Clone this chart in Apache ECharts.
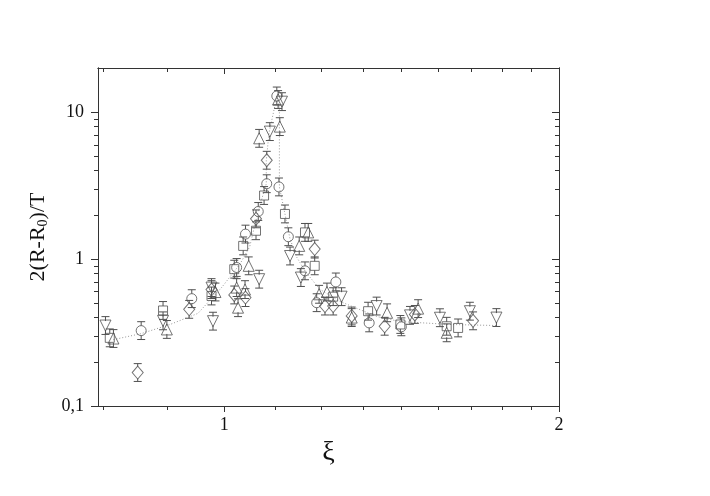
<!DOCTYPE html>
<html>
<head>
<meta charset="utf-8">
<script src="https://cdn.jsdelivr.net/npm/echarts@6.0.0/dist/echarts.min.js"></script>
<style>
  html, body { margin: 0; padding: 0; background: #fff; }
  #main { width: 710px; height: 496px; }
</style>
</head>
<body>
<div id="main"></div>
<script>
// tick values / labels
var xMajorTicks = [1, 2];
var xMinorTicks = [0.778, 0.889, 1.111, 1.222, 1.333, 1.444, 1.556, 1.667, 1.778, 1.889];
var yMajorTicks = [0.1, 1, 10];
var yTickText = ['0,1', '1', '10'];
var yMinorTicks = [0.2, 0.3, 0.4, 0.5, 0.6, 0.7, 0.8, 0.9, 2, 3, 4, 5, 6, 7, 8, 9];

// squares
var sqX = [0.789, 0.881, 0.974, 1.021, 1.040, 1.068, 1.086, 1.134, 1.182, 1.206, 1.253, 1.347, 1.440, 1.585, 1.623];
var sqY = [0.291, 0.447, 0.561, 0.854, 1.23, 1.56, 2.71, 2.03, 1.52, 0.90, 0.555, 0.442, 0.359, 0.349, 0.340];
// circles
var ciX = [0.842, 0.935, 1.026, 1.045, 1.073, 1.092, 1.120, 1.115, 1.142, 1.182, 1.211, 1.260, 1.350, 1.443];
var ciY = [0.326, 0.538, 0.877, 1.48, 2.11, 3.26, 3.10, 12.9, 1.42, 0.832, 0.505, 0.699, 0.368, 0.346];
// triangles up
var tuX = [0.795, 0.888, 0.982, 1.026, 1.029, 1.044, 1.052, 1.075, 1.118, 1.122, 1.168, 1.190, 1.217, 1.237, 1.302, 1.401, 1.494, 1.585];
var tuY = [0.288, 0.332, 0.597, 0.64, 0.467, 0.62, 0.90, 6.64, 12.2, 7.98, 1.23, 1.52, 0.576, 0.597, 0.40, 0.431, 0.46, 0.315];
// triangles down
var tdX = [0.782, 0.881, 0.974, 0.977, 1.075, 1.099, 1.127, 1.146, 1.172, 1.275, 1.371, 1.469, 1.563, 1.663, 1.757];
var tdY = [0.353, 0.38, 0.64, 0.378, 0.73, 7.38, 11.8, 1.05, 0.749, 0.555, 0.479, 0.414, 0.399, 0.442, 0.40];
// diamonds
var diX = [0.836, 0.930, 0.974, 1.021, 1.045, 1.068, 1.092, 1.206, 1.232, 1.253, 1.302, 1.394, 1.484, 1.674];
var diY = [0.169, 0.455, 0.62, 0.57, 0.547, 1.88, 4.71, 1.17, 0.479, 0.479, 0.41, 0.349, 0.42, 0.38];
// dotted guide line
var guideX = [0.795, 0.842, 0.894, 0.947, 0.995, 1.033, 1.054, 1.073, 1.091, 1.091, 1.097, 1.115, 1.121, 1.121, 1.121, 1.134, 1.146, 1.162, 1.184, 1.219, 1.270, 1.371, 1.438, 1.595, 1.758];
var guideY = [0.283, 0.311, 0.359, 0.427, 0.643, 0.924, 1.21, 2.13, 3.26, 4.69, 7.18, 12.7, 10.6, 7.77, 3.10, 2.03, 1.37, 1.03, 0.815, 0.623, 0.516, 0.407, 0.376, 0.359, 0.353];

var ERR = 1.15; // relative error bar size
var MARK = '#505050';
var TEXT = '#111';
var FONT = "'Liberation Serif', 'Times New Roman', Times, serif";

function zip(xs, ys) {
    var out = [];
    for (var i = 0; i < xs.length; i++) out.push([xs[i], ys[i]]);
    return out;
}

function scatterSeries(xs, ys, symbol, size, rotate) {
    return {
        type: 'scatter',
        data: zip(xs, ys),
        symbol: symbol,
        symbolSize: size,
        symbolRotate: rotate || 0,
        itemStyle: { color: 'rgba(0,0,0,0)', borderColor: MARK, borderWidth: 1 },
        z: 3,
        silent: true
    };
}

function errorSeries(xs, ys, r) {
    return {
        type: 'custom',
        data: zip(xs, ys),
        encode: { x: 0, y: 1 },
        silent: true,
        z: 2,
        renderItem: function (params, api) {
            var x = api.value(0), y = api.value(1);
            var c = api.coord([x, y]);
            var hi = api.coord([x, y * ERR]);
            var lo = api.coord([x, y / ERR]);
            var st = { stroke: MARK, lineWidth: 1 };
            var w = 4;
            return {
                type: 'group',
                children: [
                    { type: 'line', shape: { x1: c[0], y1: hi[1], x2: c[0], y2: c[1] - r }, style: st },
                    { type: 'line', shape: { x1: c[0], y1: c[1] + r, x2: c[0], y2: lo[1] }, style: st },
                    { type: 'line', shape: { x1: c[0] - w, y1: hi[1], x2: c[0] + w, y2: hi[1] }, style: st },
                    { type: 'line', shape: { x1: c[0] - w, y1: lo[1], x2: c[0] + w, y2: lo[1] }, style: st }
                ]
            };
        }
    };
}

function xAxisDef(pos, ticks, len, inside, labels) {
    return {
        type: 'log', min: 0.77, max: 2, position: pos, gridIndex: 0,
        axisLine: { show: true, onZero: false, lineStyle: { color: '#333', width: 1 } },
        axisTick: { show: true, customValues: ticks, length: len, inside: inside, lineStyle: { color: '#333' } },
        axisLabel: labels ? {
            show: true, customValues: xMajorTicks, margin: 10,
            fontFamily: FONT, fontSize: 18, color: TEXT
        } : { show: false },
        splitLine: { show: false },
        minorTick: { show: false }
    };
}

function yAxisDef(pos, ticks, len, inside, labels) {
    return {
        type: 'log', min: 0.1, max: 20, position: pos, gridIndex: 0,
        axisLine: { show: true, onZero: false, lineStyle: { color: '#333', width: 1 } },
        axisTick: { show: true, customValues: ticks, length: len, inside: inside, lineStyle: { color: '#333' } },
        axisLabel: labels ? {
            show: true, customValues: yMajorTicks, margin: 14,
            fontFamily: FONT, fontSize: 18, color: TEXT,
            formatter: function (v) {
                for (var i = 0; i < yMajorTicks.length; i++) {
                    if (Math.abs(v - yMajorTicks[i]) < 1e-9) return yTickText[i];
                }
                return '';
            }
        } : { show: false },
        splitLine: { show: false },
        minorTick: { show: false }
    };
}

var xAxes = [
    xAxisDef('bottom', xMajorTicks, 6, false, true),
    xAxisDef('bottom', xMinorTicks, 4, false, false),
    xAxisDef('top', xMajorTicks, 6, true, false),
    xAxisDef('top', xMinorTicks, 4, true, false)
];
xAxes[0].name = 'ξ';
xAxes[0].nameLocation = 'middle';
xAxes[0].nameGap = 24;
xAxes[0].nameTextStyle = { fontFamily: FONT, fontSize: 28, color: TEXT };

var yAxes = [
    yAxisDef('left', yMajorTicks, 7, false, true),
    yAxisDef('left', yMinorTicks, 4, false, false),
    yAxisDef('right', yMajorTicks, 7, true, false),
    yAxisDef('right', yMinorTicks, 4, true, false)
];
yAxes[0].name = '2(R-R{sub|0})/T';
yAxes[0].nameLocation = 'middle';
yAxes[0].nameGap = 40;
yAxes[0].nameRotate = 90;
yAxes[0].nameTextStyle = {
    fontFamily: FONT, fontSize: 22, color: TEXT,
    rich: { sub: { fontFamily: FONT, fontSize: 14, color: TEXT, verticalAlign: 'bottom', padding: [10, 0, 0, 0] } }
};

var series = [
    {
        type: 'line',
        data: zip(guideX, guideY),
        showSymbol: false,
        smooth: false,
        lineStyle: { color: '#999', width: 1, type: [1, 2] },
        z: 1,
        silent: true
    },
    errorSeries(sqX, sqY, 4.5), scatterSeries(sqX, sqY, 'rect', 9),
    errorSeries(ciX, ciY, 5), scatterSeries(ciX, ciY, 'circle', 10),
    errorSeries(tuX, tuY, 4.5), scatterSeries(tuX, tuY, 'triangle', 11),
    errorSeries(tdX, tdY, 4.5), scatterSeries(tdX, tdY, 'triangle', 11, 180),
    errorSeries(diX, diY, 6), scatterSeries(diX, diY, 'diamond', [11, 13])
];

var myChart = echarts.init(document.getElementById('main'));
myChart.setOption({
    animation: false,
    backgroundColor: '#fff',
    grid: { left: 98, right: 151, top: 68, bottom: 90, containLabel: false },
    xAxis: xAxes,
    yAxis: yAxes,
    series: series
});
</script>
</body>
</html>
